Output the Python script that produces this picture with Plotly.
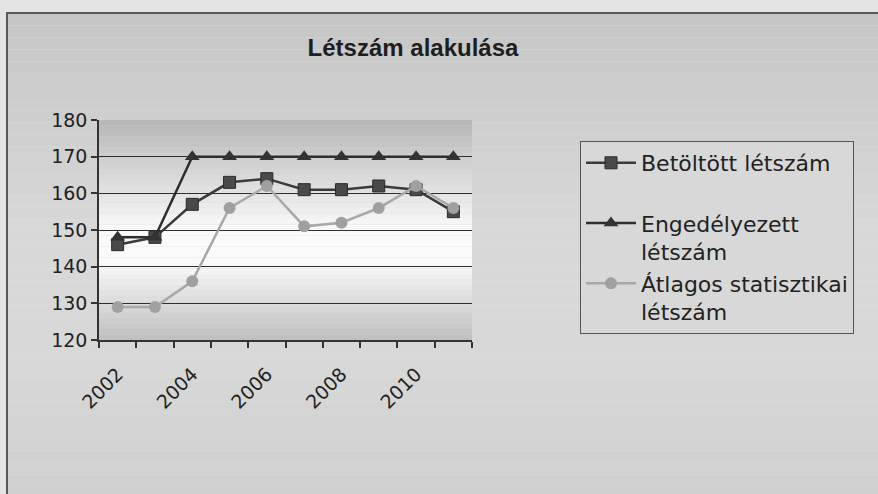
import plotly.graph_objects as go

years = [2002, 2003, 2004, 2005, 2006, 2007, 2008, 2009, 2010, 2011]
betoltott = [146, 148, 157, 163, 164, 161, 161, 162, 161, 155]
engedelyezett = [148, 148, 170, 170, 170, 170, 170, 170, 170, 170]
atlagos = [129, 129, 136, 156, 162, 151, 152, 156, 162, 156]
x_tick_labels = ["2002", "2004", "2006", "2008", "2010"]
y_ticks = [120, 130, 140, 150, 160, 170, 180]

W, H = 878, 494
L, R, T, B = 99, 472, 120, 340  # plot area in px

def px_to_paper_x(px):
    return (px - L) / (R - L)

def px_to_paper_y(py):
    return (B - py) / (B - T)

def gray(v):
    v = max(0, min(255, int(round(v))))
    return f"rgb({v},{v},{v})"

def interp(stops, t):
    for (t0, v0), (t1, v1) in zip(stops, stops[1:]):
        if t0 <= t <= t1:
            return v0 + (v1 - v0) * (t - t0) / (t1 - t0)
    return stops[-1][1]

shapes = []
# page behind the chart frame
shapes.append(dict(type="rect", xref="paper", yref="paper",
                   x0=px_to_paper_x(-5), x1=px_to_paper_x(W + 5),
                   y0=px_to_paper_y(H + 5), y1=px_to_paper_y(-5),
                   fillcolor="#e4e4e4", line_width=0, layer="below"))
# chart area gradient bands
n = 40
top_px, bot_px = 13, H + 5
stops_chart = [(0, 198), (0.45, 216), (0.7, 216), (1, 208)]
for i in range(n):
    y0 = top_px + (bot_px - top_px) * i / n
    y1 = top_px + (bot_px - top_px) * (i + 1) / n
    shapes.append(dict(type="rect", xref="paper", yref="paper",
                       x0=px_to_paper_x(7), x1=px_to_paper_x(W + 5),
                       y0=px_to_paper_y(y1), y1=px_to_paper_y(y0),
                       fillcolor=gray(interp(stops_chart, (i + 0.5) / n)),
                       line_width=0, layer="below"))
# chart frame
shapes.append(dict(type="rect", xref="paper", yref="paper",
                   x0=px_to_paper_x(7), x1=px_to_paper_x(W + 5),
                   y0=px_to_paper_y(H + 5), y1=px_to_paper_y(13),
                   fillcolor="rgba(0,0,0,0)", line=dict(color="#5a5a5a", width=2),
                   layer="below"))
# plot area gradient bands
m = 40
stops_plot = [(0, 182), (0.5, 250), (0.65, 250), (1, 190)]
for i in range(m):
    shapes.append(dict(type="rect", xref="paper", yref="paper",
                       x0=0, x1=1,
                       y0=1 - (i + 1) / m, y1=1 - i / m,
                       fillcolor=gray(interp(stops_plot, (i + 0.5) / m)),
                       line_width=0, layer="below"))

fig = go.Figure()
fig.add_trace(go.Scatter(
    x=years, y=betoltott, mode="lines+markers",
    name="Betöltött létszám<br> ",
    line=dict(color="#3a3a3a", width=2.5),
    marker=dict(symbol="square", size=12, color="#4a4a4a",
                line=dict(color="#2a2a2a", width=1)),
))
fig.add_trace(go.Scatter(
    x=years, y=engedelyezett, mode="lines+markers",
    name="Engedélyezett<br>létszám",
    line=dict(color="#2e2e2e", width=2.5),
    marker=dict(symbol="triangle-up", size=13, color="#333333"),
))
fig.add_trace(go.Scatter(
    x=years, y=atlagos, mode="lines+markers",
    name="Átlagos statisztikai<br>létszám",
    line=dict(color="#a8a8a8", width=2.5),
    marker=dict(symbol="circle", size=12, color="#a0a0a0"),
))

font_title = "Liberation Sans, Arial, sans-serif"
font_main = "DejaVu Sans, Verdana, sans-serif"

fig.update_layout(
    width=W, height=H,
    margin=dict(l=L, r=W - R, t=T, b=H - B, pad=0),
    paper_bgcolor="#e4e4e4",
    plot_bgcolor="rgba(0,0,0,0)",
    shapes=shapes,
    font=dict(family=font_main, color="#222222"),
    title=dict(text="<b>Létszám alakulása</b>", xref="container", yref="container",
               x=413 / W, y=1 - 48 / H, xanchor="center", yanchor="middle",
               font=dict(size=24, family=font_title, color="#1e1e1e")),
    showlegend=True,
    legend=dict(xref="container", yref="container",
                x=580 / W, y=1 - 141 / H, xanchor="left", yanchor="top",
                bgcolor="#d8d8d8", bordercolor="#555555", borderwidth=1,
                font=dict(size=22, family=font_main, color="#222222"),
                valign="top", itemwidth=50, tracegroupgap=0),
)

fig.update_xaxes(
    range=[years[0] - 0.5, years[-1] + 0.5],
    tickmode="array",
    tickvals=years[::2],
    ticktext=x_tick_labels,
    tickangle=-45,
    ticks="",
    ticklabelstandoff=14,
    showgrid=False,
    zeroline=False,
    showline=True, linecolor="#333333", linewidth=1.5,
    tickfont=dict(size=19, family=font_main, color="#222222"),
    minor=dict(tick0=years[0] - 0.5, dtick=1, ticks="outside",
               ticklen=6, tickcolor="#333333", tickwidth=1.5, showgrid=False),
)
fig.update_yaxes(
    range=[y_ticks[0], y_ticks[-1]],
    tickmode="array",
    tickvals=y_ticks,
    ticks="outside", ticklen=6, tickcolor="#333333", tickwidth=1.5,
    showgrid=False,
    zeroline=False,
    showline=True, linecolor="#333333", linewidth=1.5,
    tickfont=dict(size=19, family=font_main, color="#222222"),
    minor=dict(tickmode="array", tickvals=y_ticks[1:-1], ticks="",
               showgrid=True, gridcolor="#2e2e2e", gridwidth=1.2),
)

fig.write_html("out.html", config={"displayModeBar": False},
               post_script="document.body.style.margin='0';")
